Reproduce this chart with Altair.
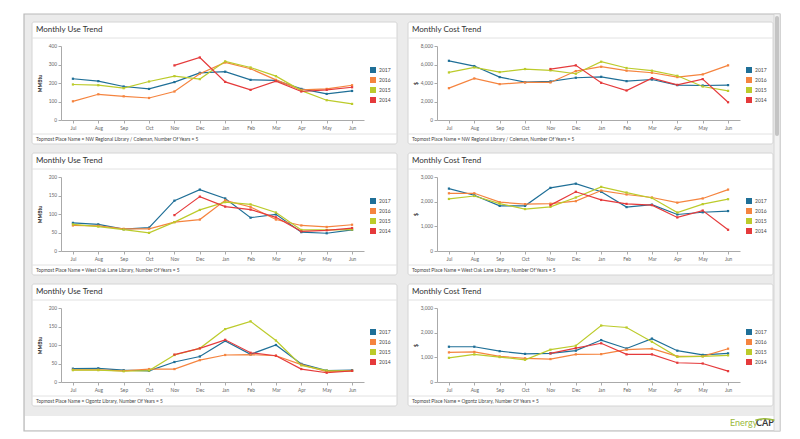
import altair as alt
import pandas as pd

months = ["Jul", "Aug", "Sep", "Oct", "Nov", "Dec", "Jan", "Feb", "Mar", "Apr", "May", "Jun"]
years = ["2017", "2016", "2015", "2014"]
colors = ["#1f6f97", "#f5843f", "#bccb2b", "#e53a3b"]

places = ["NW Regional Library / Coleman", "West Oak Lane Library", "Ogontz Library"]

# Panel 1: Monthly Use Trend (MMBtu) - NW Regional Library / Coleman
use1_2017 = [223, 210, 181, 168, 205, 255, 261, 217, 214, 168, 141, 157]
use1_2016 = [101, 139, 128, 119, 154, 250, 311, 277, 217, 163, 168, 188]
use1_2015 = [192, 188, 172, 208, 237, 221, 317, 284, 237, 159, 107, 87]
use1_2014 = [None, None, None, None, 295, 338, 206, 163, 210, 154, 163, 177]

# Panel 2: Monthly Cost Trend ($) - NW Regional Library / Coleman
cost1_2017 = [6400, 5830, 4640, 4090, 4170, 4570, 4670, 4200, 4380, 3770, 3730, 3770]
cost1_2016 = [3440, 4490, 3880, 4060, 4060, 5290, 5760, 5330, 5110, 4640, 4930, 5910]
cost1_2015 = [5140, 5690, 5180, 5510, 5360, 5000, 6300, 5620, 5330, 4780, 3620, 3150]
cost1_2014 = [None, None, None, None, 5510, 5910, 4020, 3190, 4530, 3800, 4420, 1920]

# Panel 3: Monthly Use Trend (MMBtu) - West Oak Lane Library
use2_2017 = [76, 72, 59, 63, 136, 166, 142, 90, 99, 51, 48, 57]
use2_2016 = [69, 68, 60, 60, 78, 85, 137, 119, 85, 69, 65, 71]
use2_2015 = [72, 66, 58, 49, 78, 111, 132, 126, 104, 57, 57, 58]
use2_2014 = [None, None, None, None, 97, 147, 120, 112, 91, 53, 56, 62]

# Panel 4: Monthly Cost Trend ($) - West Oak Lane Library
cost2_2017 = [2530, 2260, 1830, 1830, 2560, 2730, 2400, 1780, 1880, 1480, 1570, 1620]
cost2_2016 = [2340, 2340, 1980, 1900, 1920, 2020, 2450, 2290, 2170, 1960, 2130, 2490]
cost2_2015 = [2110, 2230, 1920, 1700, 1790, 2170, 2600, 2370, 2150, 1560, 1900, 2100]
cost2_2014 = [None, None, None, None, 1860, 2400, 2070, 1910, 1860, 1360, 1640, 860]

# Panel 5: Monthly Use Trend (MMBtu) - Ogontz Library
use3_2017 = [36, 37, 32, 30, 54, 69, 111, 75, 100, 49, 31, 32]
use3_2016 = [33, 33, 30, 35, 35, 59, 73, 74, 71, 47, 28, 30]
use3_2015 = [32, 32, 29, 31, 73, 91, 143, 164, 112, 45, 31, 30]
use3_2014 = [None, None, None, None, 74, 91, 114, 79, 71, 35, 25, 30]

# Panel 6: Monthly Cost Trend ($) - Ogontz Library
cost3_2017 = [1430, 1430, 1250, 1140, 1160, 1270, 1700, 1360, 1760, 1270, 1100, 1160]
cost3_2016 = [1200, 1220, 1040, 960, 930, 1120, 1130, 1310, 1350, 1040, 1040, 1350]
cost3_2015 = [980, 1120, 1010, 900, 1310, 1470, 2290, 2210, 1630, 1020, 1040, 1080]
cost3_2014 = [None, None, None, None, 1160, 1370, 1570, 1120, 1120, 780, 750, 440]

W, H = 303, 74
FONT = "Lato"
one = pd.DataFrame({"k": [0]})


def long_df(series):
    rows = []
    for yr, vals in zip(years, series):
        for m, v in zip(months, vals):
            if v is not None:
                rows.append({"month": m, "year": yr, "value": v})
    return pd.DataFrame(rows)


def rect(x1, x2, y1, y2, **kw):
    return alt.Chart(one).mark_rect(**kw).encode(
        x=alt.value(x1), x2=alt.value(x2), y=alt.value(y1), y2=alt.value(y2))


def frame_layers():
    return [
        rect(-37, 719, -32, 385, fill="#ebebeb", stroke="#b9b9b9", strokeWidth=1.2),
        rect(-36, 713, 370, 384, fill="#ffffff"),
        rect(713, 719, -32, 385, fill="#f2f2f2", stroke="#cfcfcf", strokeWidth=0.8),
        rect(714, 718, -30, 90, fill="#c4c4c4", cornerRadius=2),
        alt.Chart(one).mark_text(text="Energy", align="left", baseline="alphabetic",
                                 fontSize=9, color="#9ab93b", font=FONT).encode(
            x=alt.value(669), y=alt.value(380)),
        alt.Chart(one).mark_text(text="CAP", align="left", baseline="alphabetic",
                                 fontSize=9, fontWeight="bold", color="#3a3a3a", font=FONT).encode(
            x=alt.value(695), y=alt.value(380)),
        alt.Chart(one).mark_arc(theta=5.96, theta2=6.6, radius=31, radius2=29.5,
                                color="#9ab93b").encode(
            x=alt.value(704), y=alt.value(403)),
    ]


def panel(title, place, unit, series, ymax, ystep, first=False):
    df = long_df(series)
    chrome = frame_layers() if first else []
    box = rect(-29, W + 33, -24, H + 24, fill="#ffffff", stroke="#d4d4d4",
               strokeWidth=1, cornerRadius=2)
    sep1 = alt.Chart(one).mark_rule(color="#e2e2e2", strokeWidth=1).encode(
        x=alt.value(-29), x2=alt.value(W + 33), y=alt.value(-8))
    sep2 = alt.Chart(one).mark_rule(color="#e2e2e2", strokeWidth=1).encode(
        x=alt.value(-29), x2=alt.value(W + 33), y=alt.value(H + 14))
    ttl = alt.Chart(one).mark_text(text=title, align="left", baseline="middle",
                                   fontSize=8, color="#333333", font=FONT).encode(
        x=alt.value(-25), y=alt.value(-16.5))
    foot = alt.Chart(one).mark_text(
        text=f"Topmost Place Name = {place}, Number Of Years = 5",
        align="left", baseline="middle", fontSize=4.8, color="#444444", font=FONT).encode(
        x=alt.value(-25), y=alt.value(H + 19.5))

    base = alt.Chart(df).encode(
        x=alt.X("month:N", sort=months,
                scale=alt.Scale(type="point", padding=0.47, domain=months),
                axis=alt.Axis(title=None, labelFontSize=4.8, labelColor="#666666",
                              tickSize=3, tickColor="#aaaaaa", domainColor="#aaaaaa",
                              labelPadding=2, labelAngle=0, grid=False, labelFont=FONT,
                              zindex=1)),
        y=alt.Y("value:Q", scale=alt.Scale(domain=[0, ymax], nice=False),
                axis=alt.Axis(title=unit, values=list(range(0, ymax + 1, ystep)),
                              format=",d", labelFontSize=4.8, labelColor="#666666",
                              tickSize=3, tickColor="#aaaaaa", domainColor="#aaaaaa",
                              labelPadding=1.5, grid=False, labelFont=FONT,
                              titleFont=FONT, titleFontSize=5, titleFontWeight="bold",
                              titleColor="#222222", titleX=-22, titleY=H / 2,
                              titleAlign="center", titleBaseline="middle", zindex=1)),
        color=alt.Color("year:N", scale=alt.Scale(domain=years, range=colors),
                        legend=alt.Legend(title=None, orient="none", legendX=309, legendY=21,
                                          symbolType="square", symbolSize=36,
                                          symbolStrokeWidth=0, labelFontSize=5,
                                          labelColor="#444444", labelFont=FONT,
                                          rowPadding=4, labelOffset=3, padding=0,
                                          zindex=1)),
    )
    lines = base.mark_line(strokeWidth=1.2)
    pts = base.mark_point(shape="square", filled=True, size=5, opacity=1)
    return alt.layer(*chrome, box, sep1, sep2, ttl, foot, lines, pts).properties(width=W, height=H)


use_t = "Monthly Use Trend"
cost_t = "Monthly Cost Trend"

p1 = panel(use_t, places[0], "MMBtu", [use1_2017, use1_2016, use1_2015, use1_2014], 400, 100, first=True)
p2 = panel(cost_t, places[0], "$", [cost1_2017, cost1_2016, cost1_2015, cost1_2014], 8000, 2000)
p3 = panel(use_t, places[1], "MMBtu", [use2_2017, use2_2016, use2_2015, use2_2014], 200, 50)
p4 = panel(cost_t, places[1], "$", [cost2_2017, cost2_2016, cost2_2015, cost2_2014], 3000, 1000)
p5 = panel(use_t, places[2], "MMBtu", [use3_2017, use3_2016, use3_2015, use3_2014], 200, 50)
p6 = panel(cost_t, places[2], "$", [cost3_2017, cost3_2016, cost3_2015, cost3_2014], 3000, 1000)

chart = alt.concat(p1, p2, p3, p4, p5, p6, columns=2,
                   spacing={"row": 57, "column": 73}, bounds="flush").resolve_scale(
    x="independent", y="independent", color="independent"
).resolve_legend(color="independent").resolve_axis(
    x="independent", y="independent"
).properties(
    padding={"left": 14, "top": 4, "right": 4, "bottom": 4}
).configure(font=FONT).configure_view(stroke="transparent")

chart.save("out.html", embed_options={"renderer": "svg", "actions": False})
